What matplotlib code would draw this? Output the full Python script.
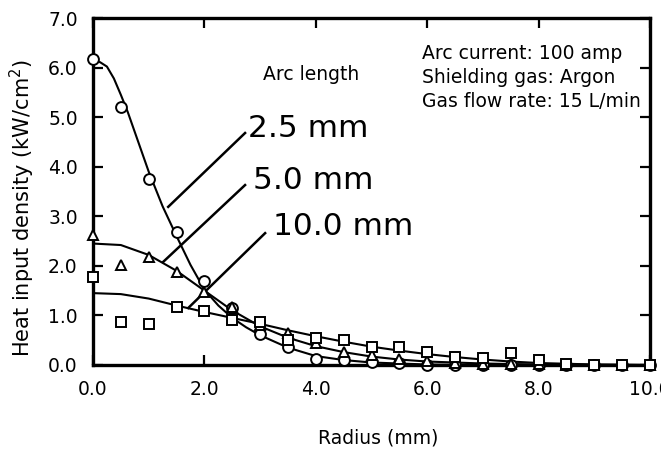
import matplotlib
matplotlib.use("Agg")
import matplotlib.pyplot as plt

plt.rcParams['font.family'] = ['DejaVu Sans']
plt.rcParams['mathtext.fontset'] = 'dejavusans'

# Measured heat input density (kW/cm^2) vs radius (mm)
radius = [0.0, 0.5, 1.0, 1.5, 2.0, 2.5, 3.0, 3.5, 4.0, 4.5, 5.0,
          5.5, 6.0, 6.5, 7.0, 7.5, 8.0, 8.5, 9.0, 9.5, 10.0]
meas_25 = [6.17, 5.20, 3.75, 2.68, 1.69, 1.15, 0.62, 0.37, 0.12, 0.10, 0.07,
           0.05, 0.00, 0.00, 0.00, 0.00, 0.00, 0.00, 0.00, 0.00, 0.00]
meas_50 = [2.62, 2.02, 2.18, 1.87, 1.47, 1.18, 0.80, 0.64, 0.44, 0.27, 0.20,
           0.13, 0.08, 0.05, 0.03, 0.02, 0.01, 0.00, 0.00, 0.00, 0.00]
meas_100 = [1.77, 0.87, 0.83, 1.17, 1.09, 0.90, 0.87, 0.50, 0.54, 0.50, 0.37,
            0.37, 0.27, 0.17, 0.15, 0.24, 0.10, 0.02, 0.00, 0.00, 0.00]

# Fitted distributions
fit_r_25 = [0.0, 0.125, 0.25, 0.375, 0.5, 0.625, 0.75, 0.875, 1.0, 1.125,
            1.25, 1.5, 1.75, 2.0, 2.25, 2.5, 2.75, 3.0, 3.5, 4.0, 4.5, 5.0,
            6.0, 7.0, 8.0, 10.0]
fit_25 = [6.12, 6.11, 6.02, 5.78, 5.45, 5.10, 4.70, 4.30, 3.90, 3.55,
          3.20, 2.60, 2.02, 1.52, 1.20, 0.95, 0.76, 0.60, 0.35, 0.18, 0.10, 0.05,
          0.01, 0.00, 0.00, 0.00]
fit_r_50 = [0.0, 0.5, 1.0, 1.5, 2.0, 2.5, 3.0, 3.5, 4.0, 4.5, 5.0,
            5.5, 6.0, 7.0, 8.0, 10.0]
fit_50 = [2.45, 2.42, 2.22, 1.90, 1.50, 1.10, 0.78, 0.55, 0.38, 0.26, 0.17,
          0.11, 0.07, 0.03, 0.01, 0.00]
fit_r_100 = [0.0, 0.5, 1.0, 1.5, 2.0, 2.5, 3.0, 3.5, 4.0, 4.5, 5.0,
             5.5, 6.0, 6.5, 7.0, 7.5, 8.0, 9.0, 10.0]
fit_100 = [1.45, 1.43, 1.34, 1.20, 1.07, 0.95, 0.83, 0.70, 0.58, 0.47, 0.37,
           0.29, 0.22, 0.16, 0.11, 0.07, 0.04, 0.01, 0.00]

fig = plt.figure(figsize=(6.61, 4.5), dpi=100)
ax = fig.add_axes([0.1407, 0.1889, 0.8427, 0.7711])

lw_curve = 1.5
ax.plot(fit_r_25, fit_25, color='black', lw=lw_curve, zorder=2)
ax.plot(fit_r_50, fit_50, color='black', lw=lw_curve, zorder=2)
ax.plot(fit_r_100, fit_100, color='black', lw=lw_curve, zorder=2)

mk = dict(linestyle='none', markerfacecolor='white', markeredgecolor='black',
          markeredgewidth=1.4, zorder=3, clip_on=False)
ax.plot(radius, meas_25, marker='o', markersize=7.8, **mk)
ax.plot(radius, meas_50, marker='^', markersize=6.8, **mk)
ax.plot(radius, meas_100, marker='s', markersize=7.2, **mk)

ax.set_xlim(0, 10)
ax.set_ylim(0, 7)
ax.set_xticks([0, 2, 4, 6, 8, 10])
ax.set_xticklabels(['0.0', '2.0', '4.0', '6.0', '8.0', '10.0'])
ax.set_yticks(range(8))
ax.set_yticklabels([f'{v:.1f}' for v in range(8)])
ax.tick_params(direction='in', length=7.5, width=1.6, labelsize=13.5,
               top=True, right=True)
ax.tick_params(axis='x', pad=11)
ax.tick_params(axis='y', pad=11)
for s in ax.spines.values():
    s.set_linewidth(2.4)

ax.set_xlabel('Radius (mm)', fontsize=13.5)
ax.xaxis.set_label_coords(0.5126, -0.183)
ax.set_ylabel('Heat input density (kW/cm$^2$)', fontsize=15)
ax.yaxis.set_label_coords(-0.1005, 0.452)

# Labels with leader lines
ax.text(3.05, 5.75, 'Arc length', fontsize=13.5, ha='left', va='baseline')
ax.text(2.78, 4.60, '2.5 mm', fontsize=22.5, ha='left', va='baseline')
ax.text(2.87, 3.55, '5.0 mm', fontsize=22.5, ha='left', va='baseline')
ax.text(3.23, 2.62, '10.0 mm', fontsize=22.5, ha='left', va='baseline')
ax.plot([2.73, 1.35], [4.68, 3.19], color='black', lw=1.8)
ax.plot([2.73, 1.26], [3.63, 2.08], color='black', lw=1.8)
ax.plot([3.09, 1.71], [2.66, 1.15], color='black', lw=1.8)

ax.text(5.91, 6.17, 'Arc current: 100 amp', fontsize=13.5, ha='left', va='baseline')
ax.text(5.91, 5.69, 'Shielding gas: Argon', fontsize=13.5, ha='left', va='baseline')
ax.text(5.91, 5.20, 'Gas flow rate: 15 L/min', fontsize=13.5, ha='left', va='baseline')

fig.savefig('out.png', dpi=100)
